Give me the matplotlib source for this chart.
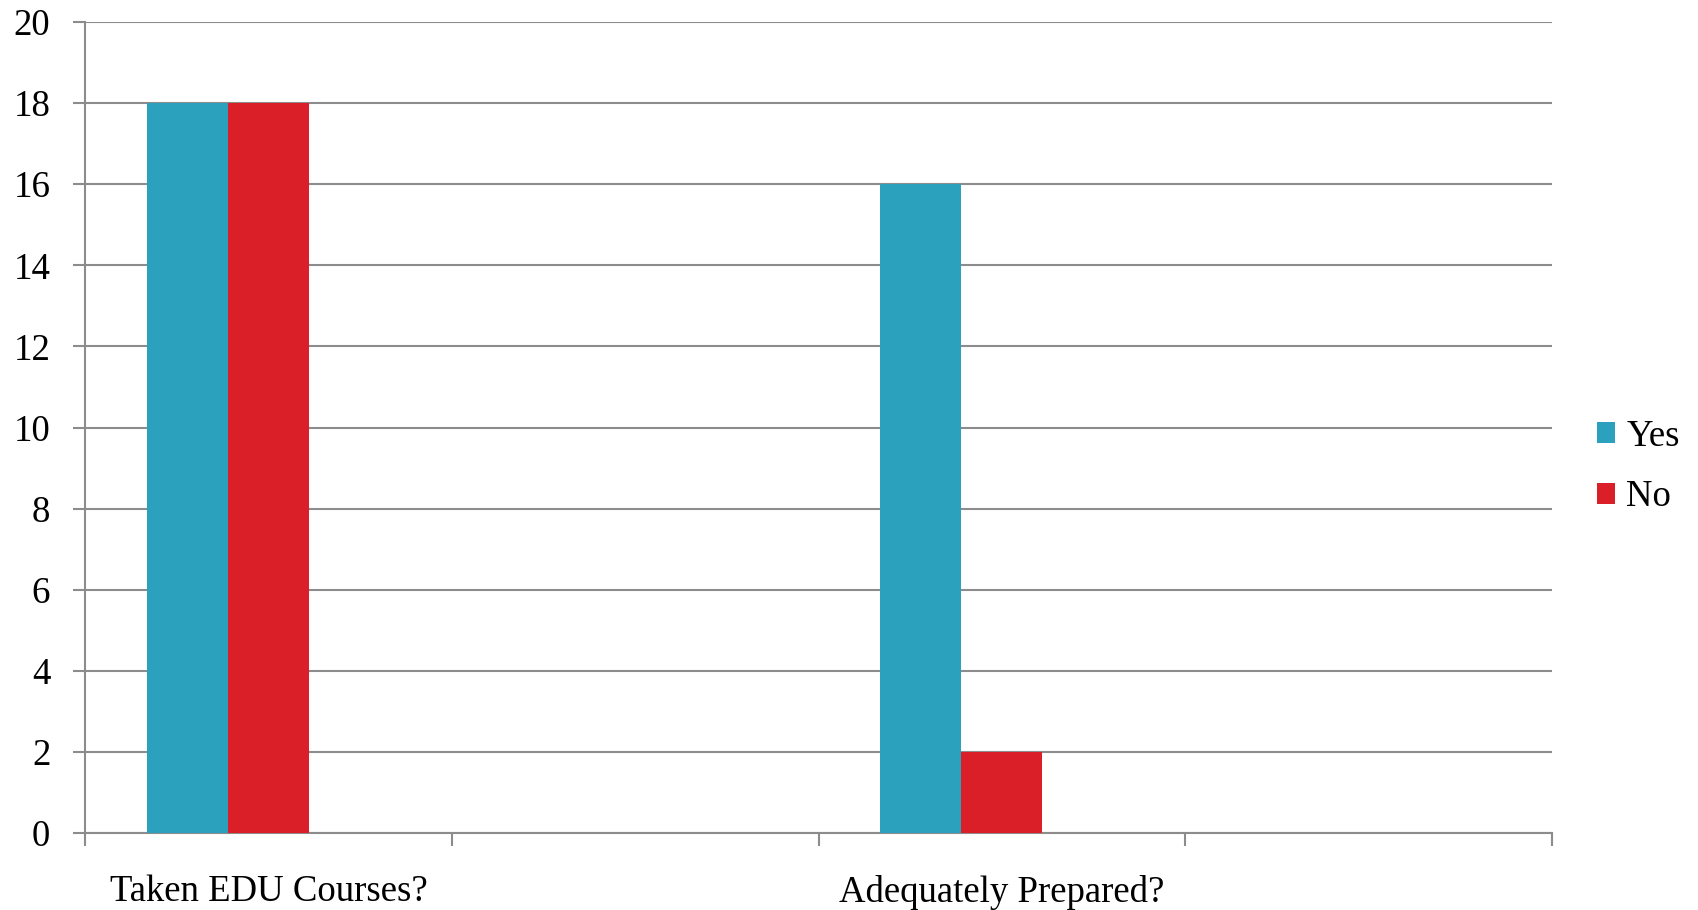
import matplotlib
matplotlib.use("Agg")
import matplotlib.pyplot as plt
import numpy as np
from matplotlib.patches import Patch

# Chart data (4 category slots; slots 2 and 4 are empty in the original)
categories = ["Taken EDU Courses?", "", "Adequately Prepared?", ""]
yes_values = [18, np.nan, 16, np.nan]
no_values = [18, np.nan, 2, np.nan]
series_names = ["Yes", "No"]
y_ticks = [0, 2, 4, 6, 8, 10, 12, 14, 16, 18, 20]

BLUE = "#2CA1BE"
RED = "#DA1F28"
GRID = "#8C8C8C"

plt.rcParams["font.family"] = ["Liberation Serif", "DejaVu Serif"]

fig = plt.figure(figsize=(16.98, 9.10), dpi=100)
ax = fig.add_axes([0.0501, 0.0846, 0.864, 0.8912])

x = np.arange(len(categories))
# Excel-style clustered bars: 3 series slots (third one empty), gap ~150%
w = 1.0 / (3 + 1.527)
ax.bar(x - w, yes_values, width=w, color=BLUE, zorder=3)
ax.bar(x, no_values, width=w, color=RED, zorder=3)

ax.set_xlim(-0.5, len(categories) - 0.5)
ax.set_ylim(0, 20)
ax.set_yticks(y_ticks)
ax.set_yticklabels([str(t) for t in y_ticks], fontsize=26.5)
ax.yaxis.grid(True, color=GRID, linewidth=1.5, zorder=0)

# boundaries get tick marks, centers get labels
ax.set_xticks(np.arange(len(categories) + 1) - 0.5)
ax.set_xticklabels([])
ax.set_xticks(x, minor=True)
ax.set_xticklabels(categories, minor=True, fontsize=26.5)
ax.tick_params(axis="x", which="minor", length=0, pad=30)
ax.tick_params(axis="x", which="major", length=9, width=1.5, color=GRID, direction="out")
ax.tick_params(axis="y", length=9, width=1.5, color=GRID, direction="out", pad=16)

for side in ["top", "right"]:
    ax.spines[side].set_visible(False)
for side in ["left", "bottom"]:
    ax.spines[side].set_color(GRID)
    ax.spines[side].set_linewidth(1.5)

handles = [Patch(facecolor=BLUE), Patch(facecolor=RED)]
fig.legend(
    handles,
    series_names,
    loc="center left",
    bbox_to_anchor=(0.9295, 0.487),
    frameon=False,
    fontsize=26.5,
    handlelength=0.5,
    handleheight=0.5,
    handletextpad=0.3,
    labelspacing=0.7,
    borderpad=0,
)

fig.savefig("out.png", dpi=100, facecolor="white")
